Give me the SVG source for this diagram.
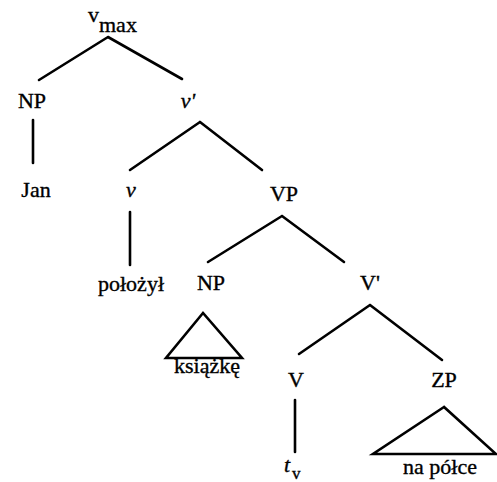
<svg xmlns="http://www.w3.org/2000/svg" width="497" height="482" viewBox="0 0 497 482">
<style>
text{font-family:"Liberation Serif","Times New Roman",serif;font-size:22px;fill:#000;stroke:#000;stroke-width:0.35}
.c{text-anchor:middle}
.i{font-style:italic}
.ln{stroke:#000;stroke-width:2.6;fill:none;stroke-linecap:round;stroke-linejoin:miter}
</style>
<rect width="497" height="482" fill="#fff"/>
<g id="connectors" class="ln">
<path d="M108,37 L39,80 M108,37 L182,79"/>
<path d="M33,120 L33,163"/>
<path d="M200,122 L130,170 M200,122 L262,170"/>
<path d="M130,212 L130,265"/>
<path d="M282,216 L208,262 M282,216 L344,262"/>
<path d="M370,305 L299,354 M370,305 L442,360"/>
<path d="M295,400 L295,452"/>
</g>
<g id="vmax"><text x="88" y="22">v</text><text x="99" y="32">max</text></g>
<g id="np1"><text class="c" x="32" y="108">NP</text></g>
<g id="jan"><text class="c" x="36" y="197">Jan</text></g>
<g id="vbar"><text class="c i" x="188" y="108">v'</text></g>
<g id="v"><text class="c i" x="131" y="197">v</text></g>
<g id="polozyl"><text class="c" x="131" y="291">położył</text></g>
<g id="vp"><text class="c" x="284" y="201">VP</text></g>
<g id="np2"><text class="c" x="211" y="290">NP</text><polygon class="ln" points="203,313 166,358 242,358"/><text class="c" x="207" y="373">książkę</text></g>
<g id="vbar2"><text class="c" x="370" y="290">V'</text></g>
<g id="V"><text class="c" x="296" y="387">V</text></g>
<g id="tv"><text class="i" x="284" y="472">t</text><text x="292" y="479" style="font-size:17px">v</text></g>
<g id="zp"><text class="c" x="444" y="387">ZP</text><polygon class="ln" points="444,407 373,454 496,454"/><text class="c" x="440" y="474">na półce</text></g>
</svg>
